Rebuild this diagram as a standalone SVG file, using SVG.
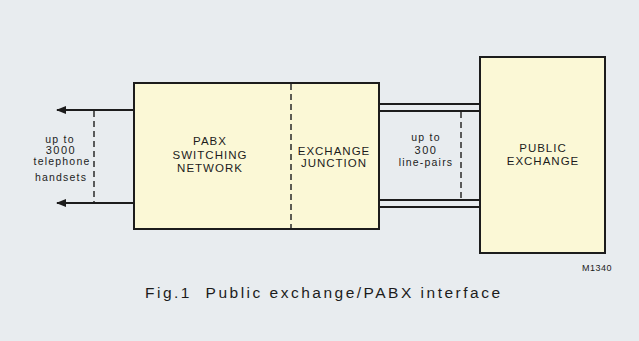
<svg xmlns="http://www.w3.org/2000/svg" width="639" height="341" viewBox="0 0 639 341">
<defs>
<style>
.bg{fill:#e8ecef}
.box{fill:#fbf8d6;stroke:#1c1c1c;stroke-width:2}
.ln{stroke:#1c1c1c;stroke-width:2;fill:none}
.dash{stroke:#2a2a2a;stroke-width:1.5;stroke-dasharray:6 4;fill:none}
.t{font-family:"Liberation Sans",Arial,sans-serif;fill:#1c1c1c;text-anchor:middle}
.cap{font-size:11.5px;letter-spacing:1px}
.sm{font-size:10.5px;letter-spacing:1.2px}
.num{font-size:11px;letter-spacing:1.5px}
</style>
<marker id="ah" markerWidth="10" markerHeight="8" refX="9" refY="4" orient="auto" markerUnits="userSpaceOnUse">
<path d="M0,0 L10,4 L0,8 z" fill="#1c1c1c"/>
</marker>
</defs>
<rect class="bg" x="0" y="0" width="639" height="341"/>
<g id="connectors">
<line class="ln" x1="134" y1="110" x2="57" y2="110" marker-end="url(#ah)"/>
<line class="ln" x1="134" y1="203" x2="57" y2="203" marker-end="url(#ah)"/>
<line class="dash" x1="94" y1="111" x2="94" y2="202"/>
<line class="ln" x1="379" y1="104" x2="480" y2="104"/>
<line class="ln" x1="379" y1="111" x2="480" y2="111"/>
<line class="ln" x1="379" y1="200" x2="480" y2="200"/>
<line class="ln" x1="379" y1="207" x2="480" y2="207"/>
<line class="dash" x1="461" y1="112" x2="461" y2="199"/>
</g>
<g id="pabx">
<rect class="box" x="134" y="83" width="245" height="146"/>
<line class="dash" x1="291" y1="84" x2="291" y2="228"/>
<text class="t cap" x="210" y="145">PABX</text>
<text class="t cap" x="210" y="158.5">SWITCHING</text>
<text class="t cap" x="210" y="172">NETWORK</text>
</g>
<g id="junction">
<text class="t cap" x="334" y="155">EXCHANGE</text>
<text class="t cap" x="334" y="167">JUNCTION</text>
</g>
<g id="public">
<rect class="box" x="480" y="57" width="125" height="196"/>
<text class="t cap" x="543" y="152">PUBLIC</text>
<text class="t cap" x="543" y="165">EXCHANGE</text>
</g>
<g id="labels">
<text class="t sm" x="60" y="143">up to</text>
<text class="t num" x="61" y="154">3000</text>
<text class="t sm" x="62" y="165">telephone</text>
<text class="t sm" x="61" y="181">handsets</text>
<text class="t sm" x="426" y="141">up to</text>
<text class="t num" x="426" y="154">300</text>
<text class="t sm" x="426" y="166">line-pairs</text>
<text class="t" style="font-size:9px;letter-spacing:0.5px" x="597" y="271">M1340</text>
<text class="t" style="font-size:15.5px;text-anchor:start" x="145" y="298" textLength="355" lengthAdjust="spacing" xml:space="preserve">Fig.1  Public exchange/PABX interface</text>
</g>
</svg>
